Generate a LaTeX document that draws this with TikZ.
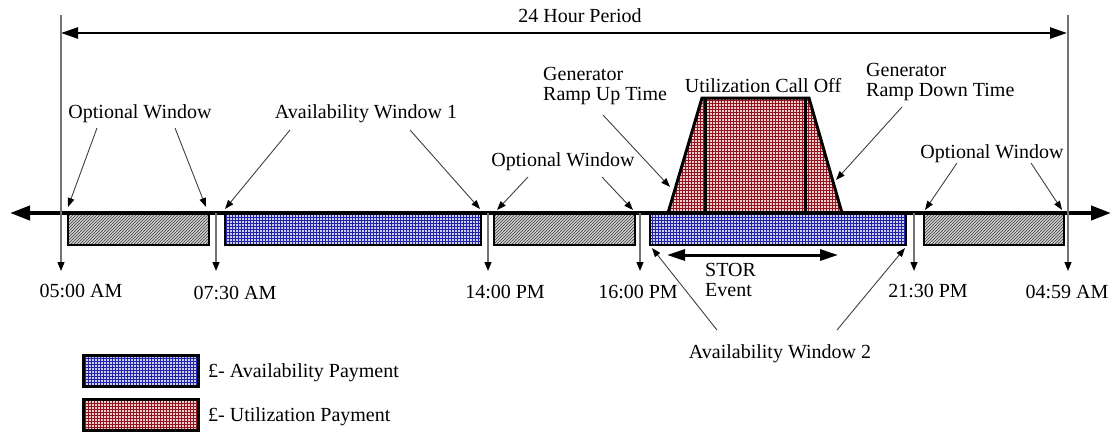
\documentclass[tikz,border=0pt]{standalone}
\usepackage{fontspec}
\setmainfont{Liberation Serif}
\usetikzlibrary{arrows.meta,patterns}

% dense square grid used for the payment fills
\pgfdeclarepatternformonly{finegrid}{\pgfqpoint{-0.5pt}{-0.5pt}}{\pgfqpoint{3.5pt}{3.5pt}}{\pgfqpoint{3pt}{3pt}}{%
  \pgfsetlinewidth{0.9pt}%
  \pgfpathmoveto{\pgfqpoint{0pt}{1.5pt}}\pgfpathlineto{\pgfqpoint{3pt}{1.5pt}}%
  \pgfpathmoveto{\pgfqpoint{1.5pt}{0pt}}\pgfpathlineto{\pgfqpoint{1.5pt}{3pt}}%
  \pgfusepath{stroke}}

% diagonal hatching for the optional windows
\pgfdeclarepatternformonly{hatch}{\pgfqpoint{-1pt}{-1pt}}{\pgfqpoint{4pt}{4pt}}{\pgfqpoint{3pt}{3pt}}{%
  \pgfsetlinewidth{0.8pt}%
  \pgfpathmoveto{\pgfqpoint{0pt}{0pt}}\pgfpathlineto{\pgfqpoint{3.1pt}{3.1pt}}%
  \pgfusepath{stroke}}

\definecolor{availblue}{RGB}{35,35,170}
\definecolor{availbg}{RGB}{205,205,240}
\definecolor{utilred}{RGB}{145,20,30}
\definecolor{utilbg}{RGB}{240,205,205}

\tikzset{
  lbl/.style={font=\fontsize{20}{20.5}\selectfont, inner sep=0pt},
  mlbl/.style={lbl, align=left, anchor=north west},
  ptr/.style={draw=black!75, line width=0.9pt, -{Triangle[length=9pt,width=6.5pt,color=black]}},
  tickarrow/.style={draw=black!55, line width=1.3pt, -{Triangle[length=9pt,width=7pt,color=black]}},
  optbox/.style={draw=black, line width=1.8pt, preaction={fill=black!10},
    pattern=hatch, pattern color=black!65, inner sep=0pt},
  avbox/.style={draw=black, line width=1.8pt, preaction={fill=availbg},
    pattern=finegrid, pattern color=availblue, inner sep=0pt},
  utilfill/.style={draw=black, line width=3pt, line join=miter, preaction={fill=utilbg},
    pattern=finegrid, pattern color=utilred},
  legavail/.style={avbox, line width=2.6pt},
  legutil/.style={draw=black, line width=2.6pt, preaction={fill=utilbg},
    pattern=finegrid, pattern color=utilred, inner sep=0pt},
  axisline/.style={line width=4pt, {Triangle[length=20pt,width=14pt]}-{Triangle[length=20pt,width=14pt]}},
  spanline/.style={line width=2.4pt, {Triangle[length=17pt,width=11pt]}-{Triangle[length=17pt,width=11pt]}},
  storline/.style={line width=3pt, {Triangle[length=18pt,width=11pt]}-{Triangle[length=18pt,width=11pt]}},
}

\begin{document}
\begin{tikzpicture}[x=1pt,y=-1pt]
\useasboundingbox (0,0) rectangle (1112,432);

% ---- window boxes under the time axis
\node[optbox, anchor=north west, minimum width=141pt, minimum height=31pt] (ow1) at (67,213) {};
\node[avbox,  anchor=north west, minimum width=256pt, minimum height=31pt] (aw1) at (224,213) {};
\node[optbox, anchor=north west, minimum width=141pt, minimum height=31pt] (ow2) at (493,213) {};
\node[avbox,  anchor=north west, minimum width=256pt, minimum height=31pt] (aw2) at (649,213) {};
\node[optbox, anchor=north west, minimum width=140pt, minimum height=31pt] (ow3) at (923,213) {};

% ---- utilization call-off trapezoid
\coordinate (ub1) at (668,213);
\coordinate (ut1) at (702,98);
\coordinate (ut2) at (809,98);
\coordinate (ub2) at (842,213);
\draw[utilfill] (ub1) -- (ut1) -- (ut2) -- (ub2) -- cycle;
\coordinate (ui1) at (705,98);  \coordinate (uj1) at (705,213);
\coordinate (ui2) at (805,98);  \coordinate (uj2) at (805,213);
\draw[line width=3pt] (ui1) -- (uj1);
\draw[line width=3pt] (ui2) -- (uj2);

% ---- time axis
\coordinate (axL) at (10,213);
\coordinate (axR) at (1111,213);
\draw[axisline] (axL) -- (axR);

% ---- 24 hour span
\coordinate (sp1) at (61,33);
\coordinate (sp2) at (1067,33);
\draw[spanline] (sp1) -- (sp2);
\node[lbl, anchor=base] (period) at (580,22) {24 Hour Period};

% ---- time markers
\coordinate (m1a) at (61,15);    \coordinate (m1b) at (61,271);
\coordinate (m2a) at (216,213);  \coordinate (m2b) at (216,271);
\coordinate (m3a) at (488,213);  \coordinate (m3b) at (488,271);
\coordinate (m4a) at (640,213);  \coordinate (m4b) at (640,271);
\coordinate (m5a) at (914,213);  \coordinate (m5b) at (914,271);
\coordinate (m6a) at (1068,15);  \coordinate (m6b) at (1068,271);
\draw[tickarrow] (m1a) -- (m1b);
\draw[tickarrow] (m2a) -- (m2b);
\draw[tickarrow] (m3a) -- (m3b);
\draw[tickarrow] (m4a) -- (m4b);
\draw[tickarrow] (m5a) -- (m5b);
\draw[tickarrow] (m6a) -- (m6b);

\node[lbl, anchor=base] (t1) at (81,297)   {05:00 AM};
\node[lbl, anchor=base] (t2) at (235,299)  {07:30 AM};
\node[lbl, anchor=base] (t3) at (505,298)  {14:00 PM};
\node[lbl, anchor=base] (t4) at (638,298)  {16:00 PM};
\node[lbl, anchor=base] (t5) at (928,297)  {21:30 PM};
\node[lbl, anchor=base] (t6) at (1067,298) {04:59 AM};

% ---- window labels and pointers
\node[lbl, anchor=base] (lo1) at (140,118) {Optional Window};
\node[lbl, anchor=base] (la1) at (366,118) {Availability Window 1};
\node[lbl, anchor=base] (lo2) at (563,166) {Optional Window};
\node[lbl, anchor=base] (lo3) at (992,158) {Optional Window};
\node[lbl, anchor=base] (la2) at (780,358) {Availability Window 2};
\node[lbl, anchor=base] (luc) at (763,92)  {Utilization Call Off};
\node[mlbl] (lru) at (543,67) {Generator\\Ramp Up Time};
\node[mlbl] (lrd) at (866,63) {Generator\\Ramp Down Time};
\node[mlbl] (lst) at (705,263) {STOR\\Event};

\coordinate (p1s) at (97,128);   \coordinate (p1e) at (68,207);
\coordinate (p2s) at (175,128);  \coordinate (p2e) at (206,207);
\coordinate (p3s) at (290,130);  \coordinate (p3e) at (225,209);
\coordinate (p4s) at (410,130);  \coordinate (p4e) at (480,209);
\coordinate (p5s) at (528,177);  \coordinate (p5e) at (497,210);
\coordinate (p6s) at (602,177);  \coordinate (p6e) at (633,210);
\coordinate (p7s) at (603,115);  \coordinate (p7e) at (670,187);
\coordinate (p8s) at (902,107);  \coordinate (p8e) at (836,180);
\coordinate (p9s) at (957,163);  \coordinate (p9e) at (925,210);
\coordinate (pAs) at (1031,163); \coordinate (pAe) at (1062,210);
\coordinate (pBs) at (717,330);  \coordinate (pBe) at (652,248);
\coordinate (pCs) at (837,330);  \coordinate (pCe) at (905,248);
\draw[ptr] (p1s) -- (p1e);
\draw[ptr] (p2s) -- (p2e);
\draw[ptr] (p3s) -- (p3e);
\draw[ptr] (p4s) -- (p4e);
\draw[ptr] (p5s) -- (p5e);
\draw[ptr] (p6s) -- (p6e);
\draw[ptr] (p7s) -- (p7e);
\draw[ptr] (p8s) -- (p8e);
\draw[ptr] (p9s) -- (p9e);
\draw[ptr] (pAs) -- (pAe);
\draw[ptr] (pBs) -- (pBe);
\draw[ptr] (pCs) -- (pCe);

% ---- STOR event span
\coordinate (st1) at (667,255);
\coordinate (st2) at (838,255);
\draw[storline] (st1) -- (st2);

% ---- legend
\node[legavail, anchor=north west, minimum width=115pt, minimum height=31pt] (kav) at (82,354) {};
\node[legutil,  anchor=north west, minimum width=115pt, minimum height=31pt] (kut) at (82,398) {};
\node[lbl, anchor=base west] (kavt) at (208,377) {£- Availability Payment};
\node[lbl, anchor=base west] (kutt) at (208,421) {£- Utilization Payment};
\end{tikzpicture}
\end{document}
